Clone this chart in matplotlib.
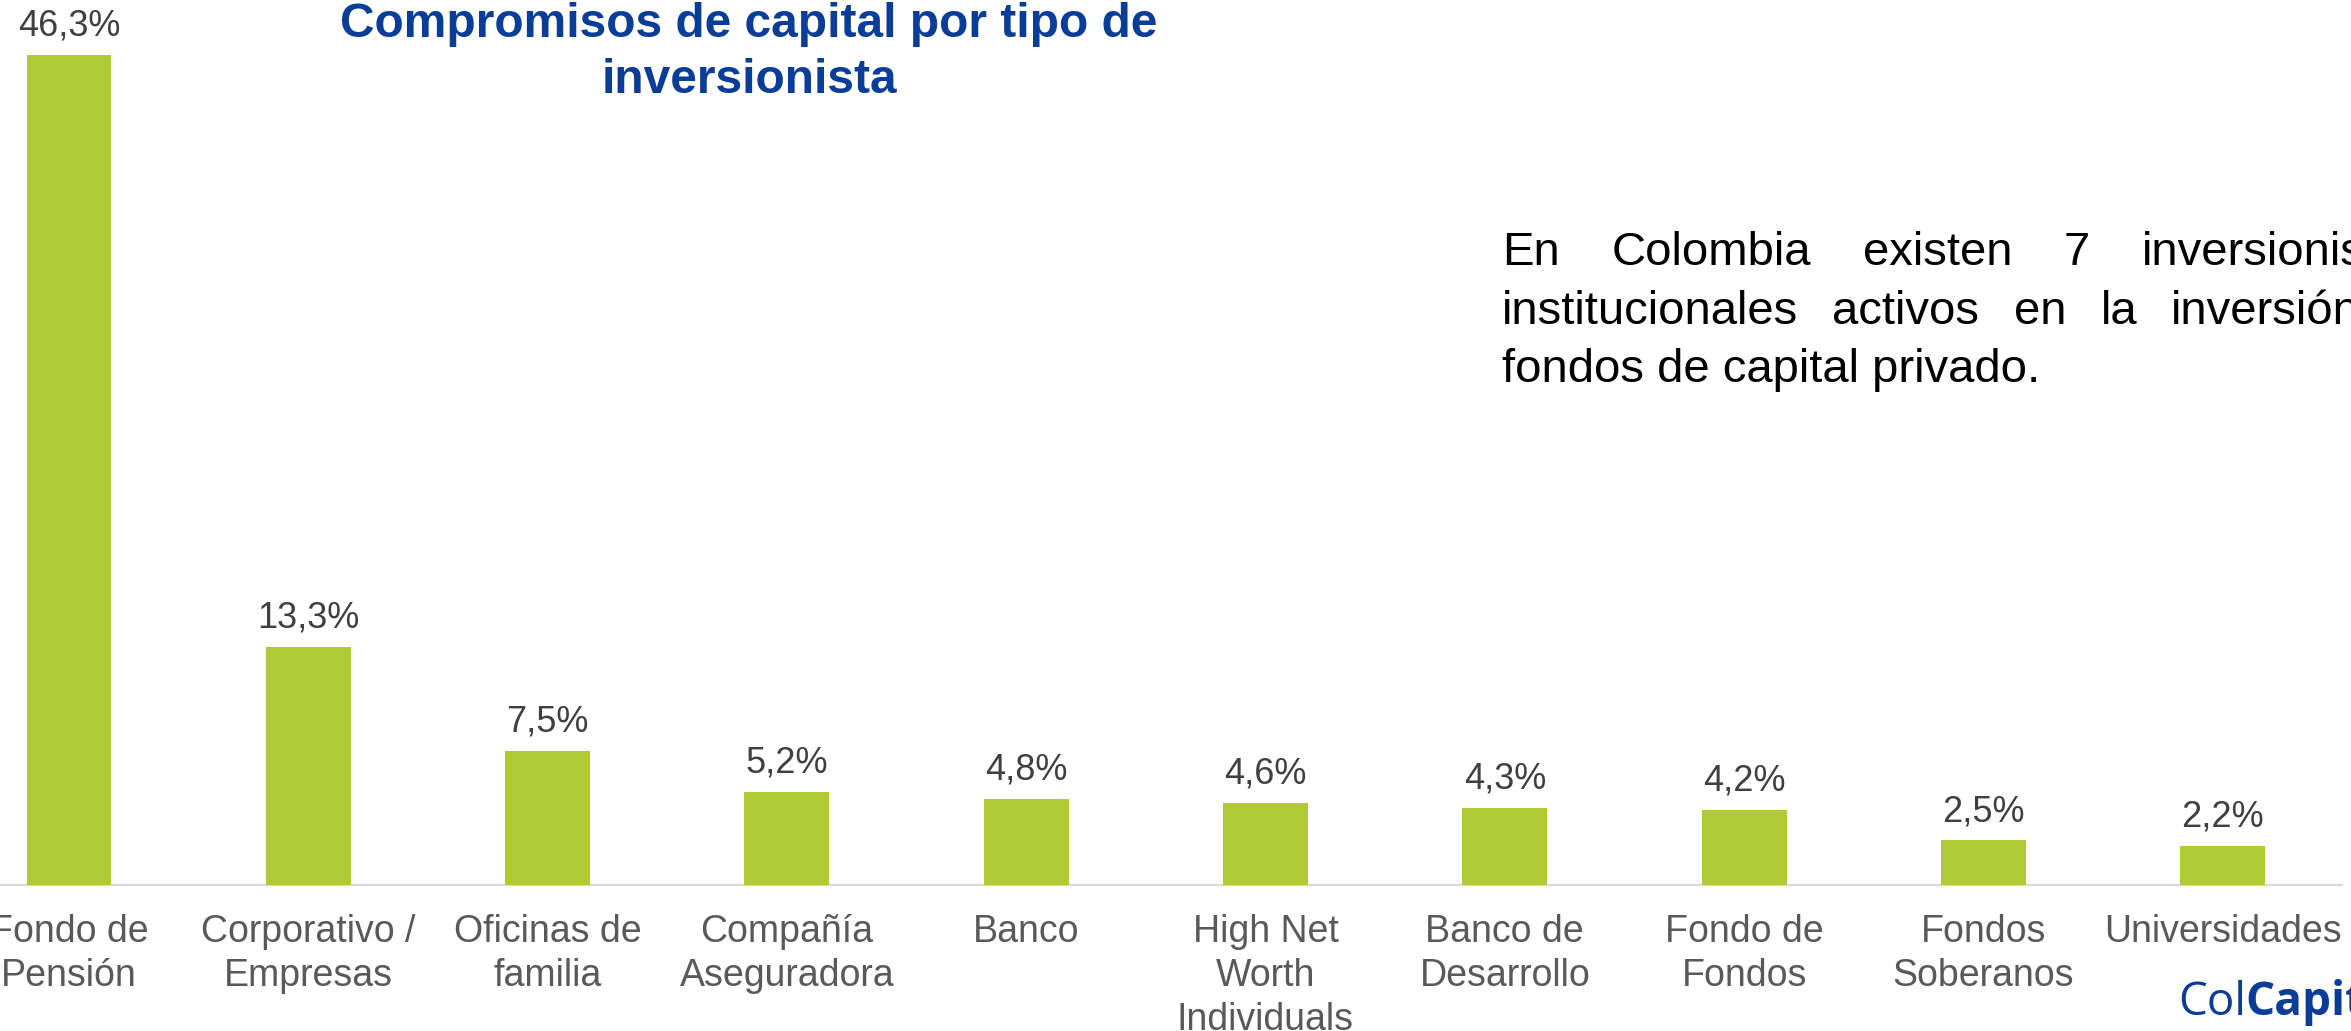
"""
Compromisos de capital por tipo de inversionista — bar chart recreation.
2351×1031 px, white background, ColCapital style.
"""

import matplotlib
matplotlib.use('Agg')
import matplotlib.pyplot as plt
import numpy as np

# ── Data ───────────────────────────────────────────────────────────
CATEGORIES = [
    'Fondo de\nPensión',
    'Corporativo /\nEmpresas',
    'Oficinas de\nfamilia',
    'Compañía\nAseguradora',
    'Banco',
    'High Net\nWorth\nIndividuals',
    'Banco de\nDesarrollo',
    'Fondo de\nFondos',
    'Fondos\nSoberanos',
    'Universidades',
]
SHARES = [46.3, 13.3, 7.5, 5.2, 4.8, 4.6, 4.3, 4.2, 2.5, 2.2]

TITLE = 'Compromisos de capital por tipo de\ninversionista'
NOTE_LINES = [
    'En Colombia existen 7 inversionistas',
    'institucionales activos en la inversión de',
    'fondos de capital privado.',
]
LOGO_LIGHT = 'Col'
LOGO_BOLD = 'Capital'

# ── Config ─────────────────────────────────────────────────────────
W_PX, H_PX, DPI = 2351, 1031, 100
COL_BAR   = '#B0CA36'
COL_VALUE = '#404040'
COL_CAT   = '#595959'
COL_TITLE = '#0A3D97'
COL_AXIS  = '#D9D9D9'
FONT      = 'Liberation Sans'
LOGO_FONT = ['Open Sans', 'DejaVu Sans']

plt.rcParams['font.family'] = [FONT, 'DejaVu Sans']

# ── Figure / axes geometry (pixels) ────────────────────────────────
SLOT      = 239.3      # px per category
FIRST_CX  = 69         # centre of first bar
BASE_Y    = 885        # baseline, px from top
PX_UNIT   = 830 / 46.3
Y_MAX     = 48

fig = plt.figure(figsize=(W_PX / DPI, H_PX / DPI), dpi=DPI, facecolor='white')
ax_left = FIRST_CX - SLOT / 2
ax = fig.add_axes([
    ax_left / W_PX,
    (H_PX - BASE_Y) / H_PX,
    SLOT * len(CATEGORIES) / W_PX,
    Y_MAX * PX_UNIT / H_PX,
])

x = np.arange(len(CATEGORIES))
bars = ax.bar(x, SHARES, width=0.355, color=COL_BAR, linewidth=0, zorder=3)
ax.set_xlim(-0.5, len(CATEGORIES) - 0.5)
ax.set_ylim(0, Y_MAX)

ax.bar_label(
    bars,
    labels=[f'{v:.1f}'.replace('.', ',') + '%' for v in SHARES],
    padding=8, fontsize=26, color=COL_VALUE,
)

# ── Axes styling ───────────────────────────────────────────────────
for side in ('top', 'left', 'right'):
    ax.spines[side].set_visible(False)
ax.spines['bottom'].set_color(COL_AXIS)
ax.spines['bottom'].set_linewidth(1.6)
ax.set_yticks([])
ax.set_xticks(x)
ax.set_xticklabels(CATEGORIES, fontsize=27, color=COL_CAT, linespacing=1.28)
ax.tick_params(axis='x', length=0, pad=21)
ax.set_facecolor('none')

# ── Title ──────────────────────────────────────────────────────────
fig.text(
    749 / W_PX, 0.998, TITLE,
    ha='center', va='top', fontsize=34.5, fontweight='bold',
    color=COL_TITLE, linespacing=1.32,
)

# ── Justified note (runs off the right edge, as in the source) ─────
renderer = fig.canvas.get_renderer()
NOTE_X, NOTE_Y0, NOTE_DY = 1502, 265, 58.5
NOTE_WIDTHS = [926, 945]
for i, line in enumerate(NOTE_LINES):
    y = 1 - (NOTE_Y0 + i * NOTE_DY) / H_PX
    if i == len(NOTE_LINES) - 1:
        fig.text(NOTE_X / W_PX, y, line, fontsize=34, color='black',
                 va='baseline', ha='left')
        continue
    words = line.split()
    texts = [fig.text(0, y, w, fontsize=34, color='black',
                      va='baseline', ha='left') for w in words]
    widths = [t.get_window_extent(renderer).width for t in texts]
    gap = (NOTE_WIDTHS[i] - sum(widths)) / (len(words) - 1)
    xpos = NOTE_X
    for t, wd in zip(texts, widths):
        t.set_x(xpos / W_PX)
        xpos += wd + gap

# ── Logo ───────────────────────────────────────────────────────────
LOGO_X, LOGO_Y = 2178, 1015
t_light = fig.text(LOGO_X / W_PX, 1 - LOGO_Y / H_PX, LOGO_LIGHT,
                   fontsize=33, color=COL_TITLE, va='baseline',
                   family=LOGO_FONT, fontweight='normal')
w_light = t_light.get_window_extent(renderer).width
fig.text((LOGO_X + w_light - 1) / W_PX, 1 - LOGO_Y / H_PX, LOGO_BOLD,
         fontsize=33, color=COL_TITLE, va='baseline',
         family=LOGO_FONT, fontweight='bold')

fig.savefig('out.png', dpi=DPI, facecolor='white')
plt.close(fig)
